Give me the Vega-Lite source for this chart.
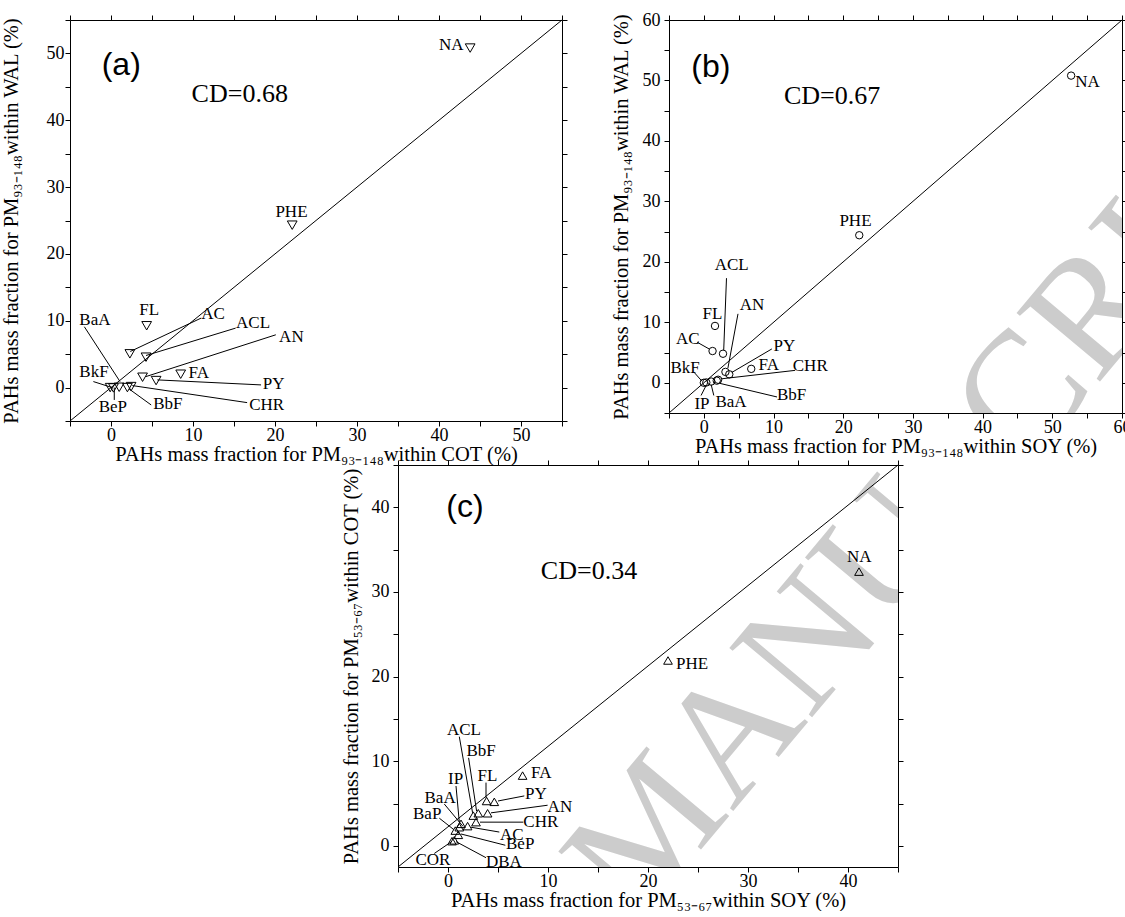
{
  "$schema": "https://vega.github.io/schema/vega-lite/v6.json",
  "padding": {"left": 0, "top": 10, "right": 0, "bottom": 0},
  "background": "white",
  "config": {
    "view": {"stroke": "black", "strokeWidth": 1},
    "axis": {"labelFont": "Liberation Serif", "labelFontSize": 18, "labelColor": "black", "titleFont": "Liberation Serif", "titleFontSize": 20.5, "titleFontWeight": "normal", "titleColor": "black", "tickColor": "black", "tickSize": 5, "domain": false, "grid": false, "labelOverlap": false, "labelFlush": false},
    "text": {"color": "black"}
  },
  "datasets": {
    "pa": [{"n":"NA","x":43.8,"y":50.8},{"n":"PHE","x":22.1,"y":24.3},{"n":"FL","x":4.35,"y":9.25},{"n":"AC","x":2.3,"y":5.05},{"n":"ACL","x":4.27,"y":4.55},{"n":"AN","x":3.85,"y":1.55},{"n":"FA","x":8.5,"y":2.0},{"n":"PY","x":5.5,"y":1.05},{"n":"CHR","x":2.45,"y":0.15},{"n":"BbF","x":2.0,"y":0.0},{"n":"BaA","x":1.0,"y":0.05},{"n":"BeP","x":0.3,"y":-0.05},{"n":"BkF","x":-0.1,"y":0.0}],
    "la": [{"x1":-5,"y1":-5,"x2":55,"y2":55},{"x1":-3.25,"y1":9.1,"x2":1.1,"y2":0.9},{"x1":2.35,"y1":5.4,"x2":11.0,"y2":10.4},{"x1":4.27,"y1":4.8,"x2":15.2,"y2":8.9},{"x1":4.27,"y1":1.65,"x2":20.1,"y2":7.9},{"x1":5.65,"y1":1.15,"x2":18.3,"y2":0.4},{"x1":2.6,"y1":0.3,"x2":16.6,"y2":-2.25},{"x1":2.2,"y1":-0.2,"x2":4.9,"y2":-2.6},{"x1":-2.15,"y1":0.9,"x2":0.15,"y2":0.0},{"x1":0.4,"y1":0.0,"x2":0.4,"y2":-1.85}],
    "ta": [{"n":"NA","x":40.0,"y":51.3},{"n":"PHE","x":20.05,"y":26.3},{"n":"FL","x":3.45,"y":11.6},{"n":"AC","x":11.0,"y":11.0},{"n":"ACL","x":15.25,"y":9.65},{"n":"AN","x":20.5,"y":7.5},{"n":"FA","x":9.46,"y":2.25},{"n":"PY","x":18.5,"y":0.5},{"n":"CHR","x":16.85,"y":-2.6},{"n":"BbF","x":5.15,"y":-2.5},{"n":"BkF","x":-3.86,"y":2.4},{"n":"BeP","x":-1.5,"y":-2.85},{"n":"BaA","x":-3.86,"y":10.15}],
    "pb": [{"n":"NA","x":52.7,"y":50.8},{"n":"PHE","x":22.3,"y":24.4},{"n":"FL","x":1.6,"y":9.4},{"n":"AC","x":1.25,"y":5.25},{"n":"ACL","x":2.75,"y":4.8},{"n":"AN","x":3.1,"y":1.8},{"n":"PY","x":3.65,"y":1.4},{"n":"FA","x":6.8,"y":2.3},{"n":"BkF","x":0.0,"y":0.0},{"n":"IP","x":0.35,"y":0.05},{"n":"BaA","x":1.05,"y":0.2},{"n":"BbF","x":1.85,"y":0.35},{"n":"CHR","x":2.05,"y":0.5}],
    "lb": [{"x1":-5,"y1":-5,"x2":60,"y2":60},{"x1":-1.43,"y1":1.77,"x2":-0.3,"y2":0.3},{"x1":-0.4,"y1":-2.1,"x2":0.35,"y2":-0.4},{"x1":1.43,"y1":-2.1,"x2":1.05,"y2":-0.3},{"x1":2.3,"y1":-0.1,"x2":10.5,"y2":-2.35},{"x1":2.5,"y1":0.65,"x2":13.1,"y2":2.05},{"x1":4.0,"y1":1.7,"x2":9.76,"y2":5.6},{"x1":3.45,"y1":2.4,"x2":4.9,"y2":11.4},{"x1":2.85,"y1":5.4,"x2":3.25,"y2":17.3},{"x1":-0.95,"y1":6.7,"x2":0.75,"y2":5.6}],
    "tb": [{"n":"NA","x":53.3,"y":49.8},{"n":"PHE","x":19.45,"y":26.8},{"n":"ACL","x":1.55,"y":19.4},{"n":"FL","x":-0.2,"y":11.4},{"n":"AN","x":5.14,"y":12.8},{"n":"AC","x":-4.0,"y":7.3},{"n":"PY","x":10.0,"y":6.05},{"n":"FA","x":7.86,"y":2.87},{"n":"CHR","x":12.76,"y":2.7},{"n":"BkF","x":-4.78,"y":2.4},{"n":"IP","x":-1.35,"y":-3.45},{"n":"BaA","x":1.67,"y":-3.2},{"n":"BbF","x":10.5,"y":-2.1}],
    "pc": [{"n":"NA","x":41.1,"y":32.4},{"n":"PHE","x":22.0,"y":21.9},{"n":"FA","x":7.46,"y":8.3},{"n":"FL","x":3.86,"y":5.3},{"n":"PY","x":4.63,"y":5.2},{"n":"AN","x":3.96,"y":3.85},{"n":"BbF","x":3.03,"y":3.85},{"n":"ACL","x":2.53,"y":3.57},{"n":"CHR","x":2.8,"y":2.8},{"n":"AC","x":1.96,"y":2.33},{"n":"IP","x":1.3,"y":2.6},{"n":"BaA","x":1.13,"y":2.2},{"n":"BaP","x":0.73,"y":1.8},{"n":"BeP","x":1.03,"y":1.3},{"n":"DBA","x":0.63,"y":0.65},{"n":"COR","x":0.4,"y":0.55}],
    "lc": [{"x1":-5,"y1":-2.5,"x2":45,"y2":45},{"x1":1.13,"y1":12.9,"x2":2.46,"y2":3.9},{"x1":2.06,"y1":10.4,"x2":2.86,"y2":4.1},{"x1":3.8,"y1":7.47,"x2":3.8,"y2":5.7},{"x1":0.8,"y1":7.07,"x2":1.13,"y2":2.8},{"x1":-0.37,"y1":4.94,"x2":1.5,"y2":2.3},{"x1":-0.87,"y1":3.27,"x2":0.6,"y2":1.9},{"x1":5.0,"y1":5.3,"x2":7.63,"y2":5.9},{"x1":4.3,"y1":3.9,"x2":9.96,"y2":4.8},{"x1":3.2,"y1":2.8,"x2":7.53,"y2":2.8},{"x1":2.3,"y1":2.2,"x2":5.13,"y2":1.63},{"x1":1.3,"y1":1.4,"x2":5.73,"y2":0.07},{"x1":0.8,"y1":0.5,"x2":3.8,"y2":-1.4},{"x1":-1.37,"y1":-0.9,"x2":0.3,"y2":0.45}],
    "tc": [{"n":"ACL","x":-0.1,"y":13.7},{"n":"BbF","x":1.85,"y":11.15},{"n":"FL","x":2.95,"y":8.3},{"n":"IP","x":0.0,"y":7.85},{"n":"BaA","x":-2.35,"y":5.7},{"n":"BaP","x":-3.5,"y":3.77},{"n":"PY","x":7.7,"y":6.1},{"n":"AN","x":9.96,"y":4.63},{"n":"CHR","x":7.53,"y":2.8},{"n":"AC","x":5.2,"y":1.32},{"n":"BeP","x":5.8,"y":0.27},{"n":"DBA","x":3.8,"y":-1.87},{"n":"COR","x":-3.25,"y":-1.68},{"n":"FA","x":8.3,"y":8.63},{"n":"PHE","x":22.8,"y":21.5},{"n":"NA","x":39.9,"y":34.1}]
  },
  "vconcat": [
    {
      "hconcat": [
        {
          "width": 492, "height": 401,
          "layer": [
            {"data": {"name": "la"}, "mark": {"type": "rule", "color": "black", "strokeWidth": 1},
             "encoding": {
               "x": {"field": "x1", "type": "quantitative", "scale": {"domain": [-5, 55], "nice": false, "zero": false},
                     "axis": {"orient": "bottom", "values": [-5,0,5,10,15,20,25,30,35,40,45,50,55], "labelExpr": "datum.value % 10 === 0 ? datum.label : ''", "title": "PAHs mass fraction for PM₉₃₋₁₄₈within COT (%)", "labelPadding": 0, "titlePadding": 0}},
               "y": {"field": "y1", "type": "quantitative", "scale": {"domain": [-5, 55], "nice": false, "zero": false},
                     "axis": {"orient": "left", "values": [-5,0,5,10,15,20,25,30,35,40,45,50,55], "labelExpr": "datum.value % 10 === 0 ? datum.label : ''", "title": "PAHs mass fraction for PM₉₃₋₁₄₈within WAL (%)", "labelPadding": 1, "titlePadding": 25}},
               "x2": {"field": "x2"}, "y2": {"field": "y2"}}},
            {"data": {"name": "pa"}, "mark": {"type": "point", "shape": "triangle-down", "size": 95, "filled": false, "color": "black", "strokeWidth": 1, "opacity": 1},
             "encoding": {
               "x": {"field": "x", "type": "quantitative", "scale": {"domain": [-5, 55], "nice": false, "zero": false},
                     "axis": {"orient": "top", "values": [-5,0,5,10,15,20,25,30,35,40,45,50,55], "labels": false, "title": null}},
               "y": {"field": "y", "type": "quantitative", "scale": {"domain": [-5, 55], "nice": false, "zero": false},
                     "axis": {"orient": "right", "values": [-5,0,5,10,15,20,25,30,35,40,45,50,55], "labels": false, "title": null}}}},
            {"data": {"name": "ta"}, "mark": {"type": "text", "align": "left", "baseline": "middle", "font": "Liberation Serif", "fontSize": 17},
             "encoding": {
               "x": {"field": "x", "type": "quantitative", "scale": {"domain": [-5, 55], "nice": false, "zero": false}, "axis": null},
               "y": {"field": "y", "type": "quantitative", "scale": {"domain": [-5, 55], "nice": false, "zero": false}, "axis": null},
               "text": {"field": "n"}}},
            {"data": {"values": [{"t": "(a)", "x": 1.25, "y": 48.3}]}, "mark": {"type": "text", "align": "center", "baseline": "middle", "font": "Liberation Sans", "fontSize": 32},
             "encoding": {
               "x": {"field": "x", "type": "quantitative", "scale": {"domain": [-5, 55], "nice": false, "zero": false}, "axis": null},
               "y": {"field": "y", "type": "quantitative", "scale": {"domain": [-5, 55], "nice": false, "zero": false}, "axis": null},
               "text": {"field": "t"}}},
            {"data": {"values": [{"t": "CD=0.68", "x": 15.7, "y": 43.9}]}, "mark": {"type": "text", "align": "center", "baseline": "middle", "font": "Liberation Serif", "fontSize": 26},
             "encoding": {
               "x": {"field": "x", "type": "quantitative", "scale": {"domain": [-5, 55], "nice": false, "zero": false}, "axis": null},
               "y": {"field": "y", "type": "quantitative", "scale": {"domain": [-5, 55], "nice": false, "zero": false}, "axis": null},
               "text": {"field": "t"}}}
          ],
          "resolve": {"axis": {"x": "independent", "y": "independent"}}
        },
        {
          "width": 453, "height": 393,
          "layer": [
            {"data": {"values": [{"t": "MANUSCRIPT", "x": -8.8, "y": -90}]}, "mark": {"type": "text", "align": "left", "baseline": "alphabetic", "angle": -50, "font": "Liberation Serif", "fontSize": 165, "color": "#cccccc", "clip": true},
             "encoding": {
               "x": {"field": "x", "type": "quantitative", "scale": {"domain": [-5, 60], "nice": false, "zero": false}, "axis": null},
               "y": {"field": "y", "type": "quantitative", "scale": {"domain": [-5, 60], "nice": false, "zero": false}, "axis": null},
               "text": {"field": "t"}}},
            {"data": {"name": "lb"}, "mark": {"type": "rule", "color": "black", "strokeWidth": 1},
             "encoding": {
               "x": {"field": "x1", "type": "quantitative", "scale": {"domain": [-5, 60], "nice": false, "zero": false},
                     "axis": {"orient": "bottom", "values": [-5,0,5,10,15,20,25,30,35,40,45,50,55,60], "labelExpr": "datum.value % 10 === 0 ? datum.label : ''", "title": "PAHs mass fraction for PM₉₃₋₁₄₈within SOY (%)", "labelPadding": 0, "titlePadding": 0}},
               "y": {"field": "y1", "type": "quantitative", "scale": {"domain": [-5, 60], "nice": false, "zero": false},
                     "axis": {"orient": "left", "values": [-5,0,5,10,15,20,25,30,35,40,45,50,55,60], "labelExpr": "datum.value % 10 === 0 ? datum.label : ''", "title": "PAHs mass fraction for PM₉₃₋₁₄₈within WAL (%)", "labelPadding": 4, "titlePadding": 11}},
               "x2": {"field": "x2"}, "y2": {"field": "y2"}}},
            {"data": {"name": "pb"}, "mark": {"type": "point", "shape": "circle", "size": 55, "filled": false, "color": "black", "strokeWidth": 1, "opacity": 1},
             "encoding": {
               "x": {"field": "x", "type": "quantitative", "scale": {"domain": [-5, 60], "nice": false, "zero": false},
                     "axis": {"orient": "top", "values": [-5,0,5,10,15,20,25,30,35,40,45,50,55,60], "labels": false, "title": null}},
               "y": {"field": "y", "type": "quantitative", "scale": {"domain": [-5, 60], "nice": false, "zero": false},
                     "axis": {"orient": "right", "values": [-5,0,5,10,15,20,25,30,35,40,45,50,55,60], "labels": false, "title": null}}}},
            {"data": {"name": "tb"}, "mark": {"type": "text", "align": "left", "baseline": "middle", "font": "Liberation Serif", "fontSize": 17},
             "encoding": {
               "x": {"field": "x", "type": "quantitative", "scale": {"domain": [-5, 60], "nice": false, "zero": false}, "axis": null},
               "y": {"field": "y", "type": "quantitative", "scale": {"domain": [-5, 60], "nice": false, "zero": false}, "axis": null},
               "text": {"field": "n"}}},
            {"data": {"values": [{"t": "(b)", "x": 1.0, "y": 52.3}]}, "mark": {"type": "text", "align": "center", "baseline": "middle", "font": "Liberation Sans", "fontSize": 32},
             "encoding": {
               "x": {"field": "x", "type": "quantitative", "scale": {"domain": [-5, 60], "nice": false, "zero": false}, "axis": null},
               "y": {"field": "y", "type": "quantitative", "scale": {"domain": [-5, 60], "nice": false, "zero": false}, "axis": null},
               "text": {"field": "t"}}},
            {"data": {"values": [{"t": "CD=0.67", "x": 18.4, "y": 47.4}]}, "mark": {"type": "text", "align": "center", "baseline": "middle", "font": "Liberation Serif", "fontSize": 26},
             "encoding": {
               "x": {"field": "x", "type": "quantitative", "scale": {"domain": [-5, 60], "nice": false, "zero": false}, "axis": null},
               "y": {"field": "y", "type": "quantitative", "scale": {"domain": [-5, 60], "nice": false, "zero": false}, "axis": null},
               "text": {"field": "t"}}}
          ],
          "resolve": {"axis": {"x": "independent", "y": "independent"}}
        }
      ],
      "spacing": 42
    },
    {
      "hconcat": [
        {"width": 270, "height": 10, "view": {"stroke": null}, "data": {"values": [{}]}, "mark": {"type": "point", "opacity": 0}, "encoding": {}},
        {
          "width": 500, "height": 402,
          "layer": [
            {"data": {"values": [{"t": "MANUSCRIPT", "x": 19.0, "y": -9.3}]}, "mark": {"type": "text", "align": "left", "baseline": "alphabetic", "angle": -50, "font": "Liberation Serif", "fontSize": 165, "color": "#cccccc", "clip": true},
             "encoding": {
               "x": {"field": "x", "type": "quantitative", "scale": {"domain": [-5, 45], "nice": false, "zero": false}, "axis": null},
               "y": {"field": "y", "type": "quantitative", "scale": {"domain": [-2.5, 45], "nice": false, "zero": false}, "axis": null},
               "text": {"field": "t"}}},
            {"data": {"name": "lc"}, "mark": {"type": "rule", "color": "black", "strokeWidth": 1},
             "encoding": {
               "x": {"field": "x1", "type": "quantitative", "scale": {"domain": [-5, 45], "nice": false, "zero": false},
                     "axis": {"orient": "bottom", "values": [-5,0,5,10,15,20,25,30,35,40,45], "labelExpr": "datum.value % 10 === 0 ? datum.label : ''", "title": "PAHs mass fraction for PM₅₃₋₆₇within SOY (%)", "labelPadding": 0, "titlePadding": 0}},
               "y": {"field": "y1", "type": "quantitative", "scale": {"domain": [-2.5, 45], "nice": false, "zero": false},
                     "axis": {"orient": "left", "values": [0,5,10,15,20,25,30,35,40,45], "labelExpr": "datum.value % 10 === 0 ? datum.label : ''", "title": "PAHs mass fraction for PM₅₃₋₆₇within COT (%)", "labelPadding": 4, "titlePadding": 10}},
               "x2": {"field": "x2"}, "y2": {"field": "y2"}}},
            {"data": {"name": "pc"}, "mark": {"type": "point", "shape": "triangle-up", "size": 75, "filled": false, "color": "black", "strokeWidth": 1, "opacity": 1},
             "encoding": {
               "x": {"field": "x", "type": "quantitative", "scale": {"domain": [-5, 45], "nice": false, "zero": false},
                     "axis": {"orient": "top", "values": [-5,0,5,10,15,20,25,30,35,40,45], "labels": false, "title": null}},
               "y": {"field": "y", "type": "quantitative", "scale": {"domain": [-2.5, 45], "nice": false, "zero": false},
                     "axis": {"orient": "right", "values": [0,5,10,15,20,25,30,35,40,45], "labels": false, "title": null}}}},
            {"data": {"name": "tc"}, "mark": {"type": "text", "align": "left", "baseline": "middle", "font": "Liberation Serif", "fontSize": 17},
             "encoding": {
               "x": {"field": "x", "type": "quantitative", "scale": {"domain": [-5, 45], "nice": false, "zero": false}, "axis": null},
               "y": {"field": "y", "type": "quantitative", "scale": {"domain": [-2.5, 45], "nice": false, "zero": false}, "axis": null},
               "text": {"field": "n"}}},
            {"data": {"values": [{"t": "(c)", "x": 1.7, "y": 40.0}]}, "mark": {"type": "text", "align": "center", "baseline": "middle", "font": "Liberation Sans", "fontSize": 32},
             "encoding": {
               "x": {"field": "x", "type": "quantitative", "scale": {"domain": [-5, 45], "nice": false, "zero": false}, "axis": null},
               "y": {"field": "y", "type": "quantitative", "scale": {"domain": [-2.5, 45], "nice": false, "zero": false}, "axis": null},
               "text": {"field": "t"}}},
            {"data": {"values": [{"t": "CD=0.34", "x": 14.1, "y": 32.5}]}, "mark": {"type": "text", "align": "center", "baseline": "middle", "font": "Liberation Serif", "fontSize": 26},
             "encoding": {
               "x": {"field": "x", "type": "quantitative", "scale": {"domain": [-5, 45], "nice": false, "zero": false}, "axis": null},
               "y": {"field": "y", "type": "quantitative", "scale": {"domain": [-2.5, 45], "nice": false, "zero": false}, "axis": null},
               "text": {"field": "t"}}}
          ],
          "resolve": {"axis": {"x": "independent", "y": "independent"}}
        }
      ],
      "spacing": 0
    }
  ],
  "spacing": -25
}
